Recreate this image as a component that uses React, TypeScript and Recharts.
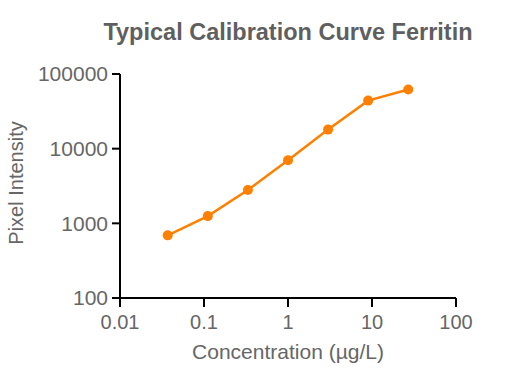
import React from 'react';
import { LineChart, Line, XAxis, YAxis, Label } from 'recharts';

const concentrations = [0.037, 0.111, 0.333, 1, 3, 9, 27];
const intensities = [690, 1250, 2800, 7000, 18000, 44000, 62000];
const xTicks = [0.01, 0.1, 1, 10, 100];
const yTicks = [100, 1000, 10000, 100000];
const title = 'Typical Calibration Curve Ferritin';
const xLabel = 'Concentration (µg/L)';
const yLabel = 'Pixel Intensity';

const data = concentrations.map((x, i) => ({ x, y: intensities[i] }));

const FONT = 'Arial, "Liberation Sans", Helvetica, sans-serif';
const TEXT = '#666666';
const ORANGE = '#FF8000';

export default function App() {
  return (
    <div style={{ position: 'absolute', left: 0, top: 0, width: 510, height: 382, background: '#fff', fontFamily: FONT }}>
      <LineChart width={510} height={382} data={data} margin={{ top: 74, right: 54, bottom: 0, left: 0 }}>
        <XAxis
          dataKey="x"
          type="number"
          scale="log"
          domain={[0.01, 100]}
          ticks={xTicks}
          allowDataOverflow
          height={84}
          tickFormatter={(v: number) => String(v)}
          axisLine={{ stroke: '#000', strokeWidth: 2 }}
          tickLine={{ stroke: '#000', strokeWidth: 2 }}
          tickSize={9}
          tickMargin={8}
          tick={{ fill: TEXT, fontSize: 20, fontFamily: FONT }}
        >
          <Label
            content={() => (
              <text x={288} y={359} textAnchor="middle" fill={TEXT} fontSize={21} fontFamily={FONT}>
                {xLabel}
              </text>
            )}
          />
          <Label
            content={() => (
              <text x={288} y={40} textAnchor="middle" fill="#5f5f5f" fontSize={23.5} fontWeight="bold" fontFamily={FONT}>
                {title}
              </text>
            )}
          />
        </XAxis>
        <YAxis
          dataKey="y"
          type="number"
          scale="log"
          domain={[100, 100000]}
          ticks={yTicks}
          allowDataOverflow
          width={120}
          tickFormatter={(v: number) => String(v)}
          axisLine={{ stroke: '#000', strokeWidth: 2 }}
          tickLine={{ stroke: '#000', strokeWidth: 2 }}
          tickSize={8}
          tickMargin={4}
          tick={{ fill: TEXT, fontSize: 21, fontFamily: FONT }}
        >
          <Label
            content={() => (
              <text x={23} y={183} transform="rotate(-90 23 183)" textAnchor="middle" fill={TEXT} fontSize={20} fontFamily={FONT}>
                {yLabel}
              </text>
            )}
          />
        </YAxis>
        <Line
          dataKey="y"
          type="linear"
          stroke={ORANGE}
          strokeWidth={2.5}
          dot={{ r: 5, fill: ORANGE, stroke: ORANGE, strokeWidth: 0 }}
          activeDot={false}
          isAnimationActive={false}
        />
      </LineChart>
    </div>
  );
}
